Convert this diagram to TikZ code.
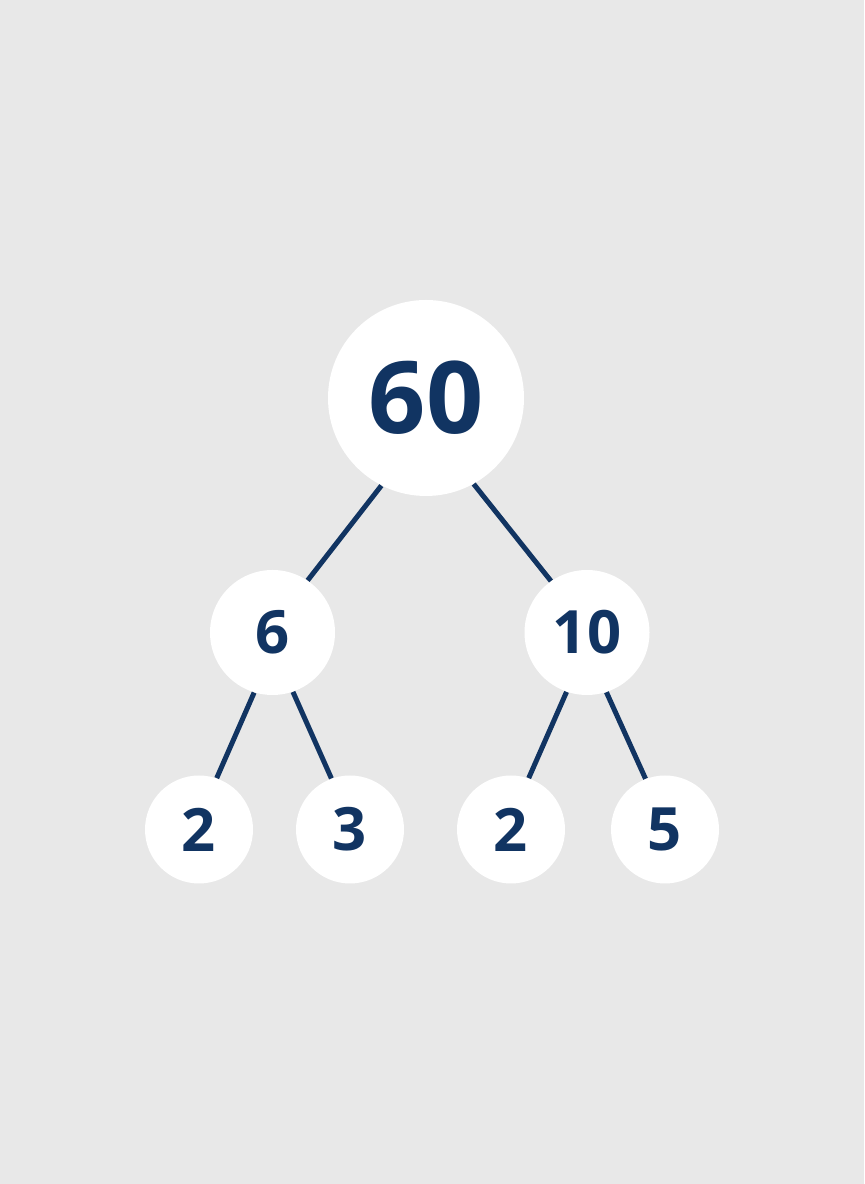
\documentclass[tikz,border=0pt]{standalone}
\usepackage{fontspec}
\setmainfont{Open Sans}
\definecolor{navy}{RGB}{17,52,98}
\definecolor{bggray}{RGB}{232,232,232}
\tikzset{
    factor/.style={circle, fill=white, text=navy, font=\bfseries, inner sep=0pt},
    branch/.style={navy, line width=0.1cm}
}
\begin{document}
\begin{tikzpicture}
    %Background
    \fill[bggray] (0,0) rectangle (17.28,23.68);
    \useasboundingbox (0,0) rectangle (17.28,23.68);
    %Root
    \node[factor, minimum size=3.92cm, font=\bfseries\fontsize{57}{57}\selectfont] (n60) at (8.52,15.72) {60};
    %Middle
    \node[factor, minimum size=2.5cm, font=\bfseries\fontsize{34}{34}\selectfont] (n6) at (5.45,11.03) {6};
    \node[factor, minimum size=2.5cm, font=\bfseries\fontsize{34}{34}\selectfont] (n10) at (11.74,11.03) {10};
    %Leaves
    \node[factor, minimum size=2.16cm, font=\bfseries\fontsize{34}{34}\selectfont] (n2a) at (3.98,7.09) {2};
    \node[factor, minimum size=2.16cm, font=\bfseries\fontsize{34}{34}\selectfont] (n3) at (7.00,7.09) {3};
    \node[factor, minimum size=2.16cm, font=\bfseries\fontsize{34}{34}\selectfont] (n2b) at (10.22,7.09) {2};
    \node[factor, minimum size=2.16cm, font=\bfseries\fontsize{34}{34}\selectfont] (n5) at (13.30,7.09) {5};
    %Branches
    \draw[branch] (n60.243) -- (n6.56);
    \draw[branch] (n60.299) -- (n10.125);
    \draw[branch] (n6.253) -- (n2a.71);
    \draw[branch] (n6.289) -- (n3.110);
    \draw[branch] (n10.251) -- (n2b.71);
    \draw[branch] (n10.288) -- (n5.111);
\end{tikzpicture}
\end{document}
